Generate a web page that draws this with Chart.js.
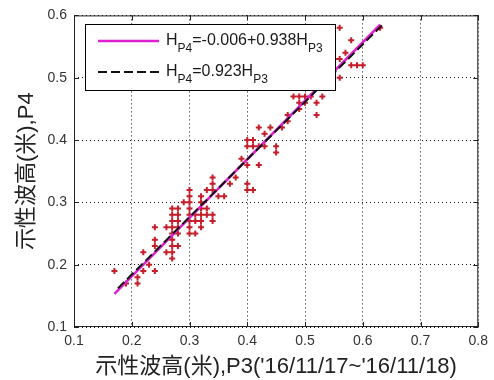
<!DOCTYPE html>
<html>
<head>
<meta charset="utf-8">
<script src="https://cdn.jsdelivr.net/npm/chart.js@4.4.0/dist/chart.umd.min.js"></script>
<style>
    html, body { margin: 0; padding: 0; background: #fff; }
    #wrap { width: 494px; height: 380px; }
</style>
</head>
<body>
<div id="wrap"><canvas id="scatterChart" width="494" height="380"></canvas></div>
<script>
// --- Data ---
const p3Values = [
    0.17, 0.19, 0.21, 0.21, 0.22, 0.22, 0.23, 0.24, 0.24, 0.24, 0.24, 0.26, 0.26,
    0.27, 0.27, 0.27, 0.27, 0.27, 0.27, 0.27, 0.27, 0.27,
    0.28, 0.28, 0.28, 0.28, 0.28, 0.28, 0.29,
    0.30, 0.30, 0.30, 0.30, 0.30, 0.30, 0.30, 0.30,
    0.31, 0.31, 0.31, 0.32, 0.32, 0.32, 0.32, 0.32, 0.32,
    0.33, 0.33, 0.33, 0.34, 0.34, 0.34, 0.34, 0.34, 0.35, 0.36, 0.37, 0.38, 0.39,
    0.40, 0.40, 0.40, 0.40, 0.40, 0.41, 0.41, 0.41, 0.42, 0.42, 0.42, 0.43, 0.43, 0.44,
    0.45, 0.45, 0.46, 0.47, 0.47, 0.48, 0.49, 0.49, 0.49, 0.50, 0.50, 0.51,
    0.52, 0.52, 0.53, 0.55, 0.56, 0.56, 0.56, 0.57, 0.58, 0.58, 0.59, 0.60, 0.63
];
const p4Values = [
    0.19, 0.17, 0.18, 0.17, 0.19, 0.22, 0.20, 0.19, 0.23, 0.24, 0.26, 0.22, 0.26,
    0.21, 0.22, 0.23, 0.24, 0.25, 0.26, 0.27, 0.28, 0.29,
    0.23, 0.25, 0.26, 0.27, 0.28, 0.29, 0.30,
    0.25, 0.26, 0.27, 0.28, 0.29, 0.30, 0.31, 0.32,
    0.25, 0.27, 0.28, 0.26, 0.27, 0.28, 0.29, 0.30, 0.31,
    0.28, 0.29, 0.32, 0.27, 0.28, 0.32, 0.33, 0.34, 0.31, 0.31, 0.33, 0.34, 0.37,
    0.32, 0.33, 0.36, 0.39, 0.40, 0.32, 0.39, 0.40, 0.36, 0.39, 0.42, 0.39, 0.41, 0.42,
    0.38, 0.39, 0.42, 0.43, 0.44, 0.47, 0.45, 0.46, 0.47, 0.46, 0.47, 0.47,
    0.44, 0.46, 0.47, 0.53, 0.50, 0.53, 0.58, 0.54, 0.52, 0.56, 0.52, 0.52, 0.58
];

// regression line end points: H_P4 = -0.006 + 0.938 H_P3
const fitLineX = [0.17, 0.63];
const fitLineY = [0.153, 0.585];
// through-origin line end points: H_P4 = 0.923 H_P3
const originLineX = [0.176, 0.633];
const originLineY = [0.162, 0.584];

const xTicks = [0.1, 0.2, 0.3, 0.4, 0.5, 0.6, 0.7, 0.8];
const yTicks = [0.1, 0.2, 0.3, 0.4, 0.5, 0.6];

const xTitle = "示性波高(米),P3('16/11/17~'16/11/18)";
const yTitle = '示性波高(米),P4';

// legend text pieces: normal, subscript, normal, subscript
const legendRows = [
    { dataset: 1, parts: ['H', 'P4', '=-0.006+0.938H', 'P3'] },
    { dataset: 2, parts: ['H', 'P4', '=0.923H', 'P3'] }
];

const FONT = '"Liberation Sans", "Noto Sans CJK TC", sans-serif';

const toPoints = (xs, ys) => xs.map((x, i) => ({ x: x, y: ys[i] }));

// --- Plugins ---

// axes box + inward tick marks, MATLAB style
const frameBox = {
    id: 'frameBox',
    afterDatasetsDraw(chart) {
        const { ctx, chartArea: a, scales } = chart;
        ctx.save();
        ctx.strokeStyle = '#222';
        ctx.lineWidth = 1;
        ctx.strokeRect(a.left + 0.5, a.top + 0.5, a.right - a.left - 1, a.bottom - a.top - 1);
        ctx.beginPath();
        xTicks.forEach(v => {
            const px = Math.round(scales.x.getPixelForValue(v)) + 0.5;
            ctx.moveTo(px, a.bottom); ctx.lineTo(px, a.bottom - 5);
            ctx.moveTo(px, a.top); ctx.lineTo(px, a.top + 5);
        });
        yTicks.forEach(v => {
            const py = Math.round(scales.y.getPixelForValue(v)) + 0.5;
            ctx.moveTo(a.left, py); ctx.lineTo(a.left + 5, py);
            ctx.moveTo(a.right, py); ctx.lineTo(a.right - 5, py);
        });
        ctx.stroke();
        ctx.restore();
    }
};

// legend with subscripts
const legendBox = {
    id: 'legendBox',
    afterDraw(chart) {
        const ctx = chart.ctx;
        ctx.save();
        ctx.fillStyle = '#fff';
        ctx.fillRect(85, 24, 250, 66);
        ctx.strokeStyle = '#000';
        ctx.lineWidth = 1;
        ctx.strokeRect(85.5, 24.5, 250, 66);
        legendRows.forEach((row, i) => {
            const y = 41 + i * 31;
            const ds = chart.data.datasets[row.dataset];
            ctx.strokeStyle = ds.borderColor;
            ctx.lineWidth = ds.borderWidth;
            ctx.setLineDash(ds.borderDash || []);
            ctx.beginPath();
            ctx.moveTo(98, y);
            ctx.lineTo(159, y);
            ctx.stroke();
            ctx.setLineDash([]);
            let x = 166;
            ctx.fillStyle = '#1a1a1a';
            ctx.textBaseline = 'alphabetic';
            row.parts.forEach((p, j) => {
                const sub = j % 2 === 1;
                ctx.font = (sub ? '12px ' : '16px ') + FONT;
                ctx.fillText(p, x, sub ? y + 11 : y + 4);
                x += ctx.measureText(p).width;
            });
        });
        ctx.restore();
    }
};

document.addEventListener('DOMContentLoaded', () => {
    const ctx = document.getElementById('scatterChart').getContext('2d');
    new Chart(ctx, {
        data: {
            datasets: [{
                type: 'scatter',
                label: 'P3 vs P4',
                data: toPoints(p3Values, p4Values),
                pointStyle: 'cross',
                pointRadius: 3,
                pointBorderWidth: 2,
                borderColor: '#c41e2a',
                backgroundColor: '#c41e2a',
                order: 3
            }, {
                type: 'line',
                label: 'fit',
                data: toPoints(fitLineX, fitLineY),
                borderColor: '#e020d0',
                borderWidth: 2.5,
                pointRadius: 0,
                fill: false,
                order: 2
            }, {
                type: 'line',
                label: 'origin',
                data: toPoints(originLineX, originLineY),
                borderColor: '#111',
                borderWidth: 2,
                borderDash: [9, 4],
                pointRadius: 0,
                fill: false,
                order: 1
            }]
        },
        options: {
            responsive: false,
            animation: false,
            devicePixelRatio: 1,
            layout: { padding: { top: 14, right: 11, left: 0, bottom: 0 } },
            plugins: { legend: { display: false }, tooltip: { enabled: false } },
            scales: {
                x: {
                    type: 'linear',
                    min: 0.1,
                    max: 0.8,
                    afterBuildTicks: (scale) => { scale.ticks = xTicks.map(v => ({ value: v })); },
                    afterFit: (scale) => { scale.height = 53; },
                    ticks: {
                        font: { family: FONT, size: 14 },
                        color: '#333',
                        padding: 6,
                        maxRotation: 0,
                        callback: (v) => v.toFixed(1)
                    },
                    grid: { color: '#111', lineWidth: 1, drawTicks: false },
                    border: { display: false, dash: [1, 3] },
                    title: {
                        display: true,
                        text: xTitle,
                        font: { family: FONT, size: 22 },
                        color: '#222',
                        padding: { top: 0, bottom: 0 }
                    }
                },
                y: {
                    type: 'linear',
                    min: 0.1,
                    max: 0.6,
                    afterBuildTicks: (scale) => { scale.ticks = yTicks.map(v => ({ value: v })); },
                    afterFit: (scale) => { scale.width = 74; },
                    ticks: {
                        font: { family: FONT, size: 14 },
                        color: '#333',
                        padding: 7,
                        callback: (v) => v.toFixed(1)
                    },
                    grid: { color: '#111', lineWidth: 1, drawTicks: false },
                    border: { display: false, dash: [1, 3] },
                    title: {
                        display: true,
                        text: yTitle,
                        font: { family: FONT, size: 22 },
                        color: '#222',
                        padding: { top: 14, bottom: 0 }
                    }
                }
            }
        },
        plugins: [frameBox, legendBox]
    });
});
</script>
</body>
</html>
